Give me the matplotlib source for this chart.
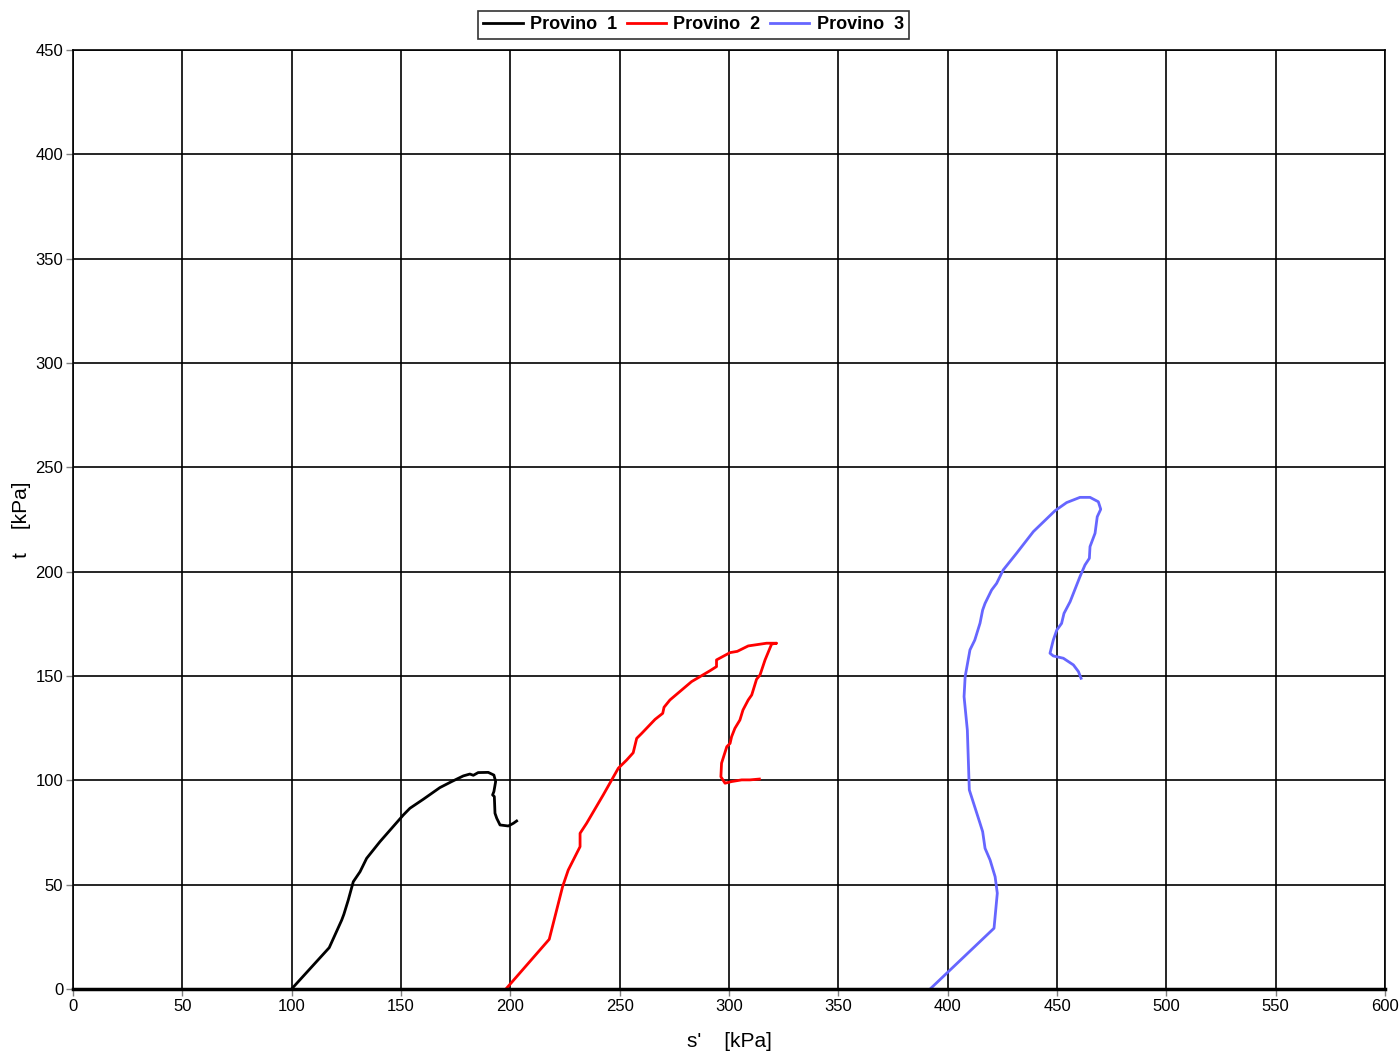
import matplotlib
matplotlib.use("Agg")
import matplotlib.pyplot as plt

plt.rcParams['font.family'] = ['Liberation Sans', 'DejaVu Sans']

# Provino 1
s1 = [100, 117.2, 122.9, 123.9, 125.9, 128.2, 131.3, 134.3, 140.4, 151.1, 154.1, 160.2,
      167.8, 173.2, 178.5, 181.5, 183.1, 185.3, 189.9, 192.5, 193.3, 192.5, 191.9, 192.7,
      193.0, 193.8, 195.3, 199.1, 201.4, 202.9]
t1 = [0, 19.8, 33, 35.8, 42.6, 51.4, 56.2, 62.6, 70.6, 83.4, 86.6, 90.9,
      96.5, 99.4, 102.1, 103, 102.4, 103.7, 103.8, 102.5, 99.4, 94.6, 93, 92.2,
      84.2, 81.8, 78.6, 78.1, 79.4, 80.5]

# Provino 2
s2 = [198, 217.8, 223.9, 226.5, 231.9, 231.9, 234.9, 242.5, 249.4, 253.2, 256.2, 257.8,
      260.1, 266.2, 269.7, 270.3, 273.0, 282.9, 291.3, 294.3, 294.3, 300.5, 303.8, 308.8,
      317.2, 321.8, 319.5, 316.5, 314.2, 312.6, 310.4, 308.8, 306.4, 305.0, 302.7, 301.2,
      300.5, 299.0, 296.6, 296.3, 298.2, 301.2, 305.8, 309.6, 313.9]
t2 = [0, 23.8, 49, 57, 68.2, 74.6, 79.4, 93, 105.8, 109.7, 113.2, 120.1,
      122.5, 129.2, 132.1, 135, 138.5, 147.3, 152.5, 154.5, 157.7, 161.2, 161.8, 164.4,
      165.7, 165.7, 165.3, 157.7, 150.5, 148.4, 140.9, 138.5, 133.7, 128.9, 124.9, 120.9,
      117.7, 116.1, 108.2, 101.7, 98.6, 99.4, 100.2, 100.2, 100.6]

# Provino 3
s3 = [392, 421.2, 422.7, 421.7, 419.4, 417.1, 416.0, 414.8, 409.9, 409.0, 407.5, 408.0,
      410.2, 412.4, 414.8, 416.0, 417.1, 420.1, 422.4, 425.4, 431.5, 439.2, 449.1, 454.4,
      460.5, 465.1, 468.9, 470.0, 468.4, 467.4, 465.1, 464.8, 462.8, 460.5, 457.5, 456.0,
      453.2, 452.1, 449.9, 448.3, 446.8, 448.3, 452.9, 457.5, 459.8, 461.0]
t3 = [0, 29.1, 45.9, 53.8, 61.8, 67.4, 75.4, 79.4, 95.4, 124.1, 140.1, 149.7,
      162.5, 167.2, 175.3, 181.6, 184.8, 191.2, 194.4, 200.8, 208.8, 219.2, 229.2, 233.1,
      235.6, 235.6, 233.5, 229.9, 226.3, 218.4, 212, 206.4, 203.2, 197.6, 189.6, 185.6,
      180, 175.2, 172, 167.2, 160.9, 159.6, 158.5, 155.3, 152.1, 148.9]

fig = plt.figure(figsize=(14, 10.55), dpi=100)
ax = fig.add_axes([0.0521, 0.0626, 0.9372, 0.89])

ax.plot(s1, t1, color="black", lw=2.0, label="Provino  1")
ax.plot(s2, t2, color="#ff0000", lw=2.0, label="Provino  2")
ax.plot(s3, t3, color="#6666ff", lw=2.0, label="Provino  3")

ax.set_xlim(0, 600)
ax.set_ylim(0, 450)
ax.set_xticks(range(0, 601, 50))
ax.set_yticks(range(0, 451, 50))
ax.grid(True, color="black", lw=1.2)
ax.set_axisbelow(True)
ax.tick_params(labelsize=12, color="gray", length=5, width=1, pad=2)
for sp in ax.spines.values():
    sp.set_color("black")
    sp.set_linewidth(1.2)
ax.spines["bottom"].set_linewidth(2.5)

ax.set_xlabel("s'    [kPa]", fontsize=15)
ax.xaxis.set_label_coords(0.5, -0.046)
ax.set_ylabel("t    [kPa]", fontsize=15)
ax.yaxis.set_label_coords(-0.032, 0.5)

leg = ax.legend(loc="lower center", bbox_to_anchor=(0.473, 1.008), ncol=3,
                prop={"weight": "bold", "size": 13}, frameon=True, fancybox=False,
                handlelength=2.2, handletextpad=0.4, columnspacing=0.5,
                borderpad=0.3, borderaxespad=0.2)
leg.get_frame().set_edgecolor("black")
leg.get_frame().set_linewidth(1.2)

fig.savefig("out.png", dpi=100)
